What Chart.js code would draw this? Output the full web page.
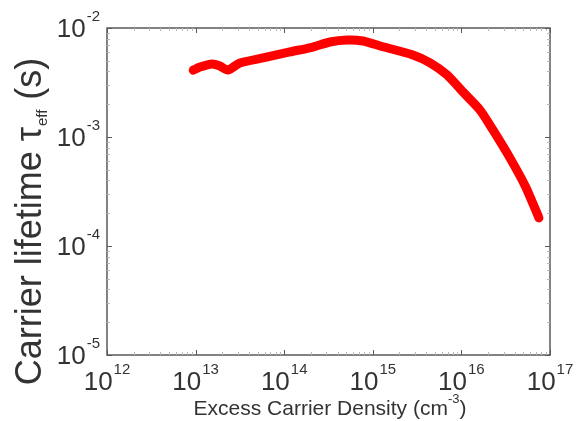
<!DOCTYPE html>
<html lang="en">
<head>
<meta charset="UTF-8">
<title>Carrier lifetime</title>
<script src="https://cdn.jsdelivr.net/npm/chart.js"></script>
<style>
  body { margin: 0; background: #fff; }
  #wrap { width: 578px; height: 421px; }
</style>
</head>
<body>
<div id="wrap"><canvas id="myChart" width="578" height="421"></canvas></div>
<script>
// Excess carrier density (cm^-3) and effective lifetime (s)
const carrierDensity = [
  9.4e12, 1.12e13, 1.53e13, 1.88e13, 2.32e13, 3.17e13, 5.77e13, 1.16e14,
  2.11e14, 3.29e14, 5.12e14, 7.75e14, 1.21e15, 2.84e15, 4.43e15, 6.88e15,
  1.04e16, 1.62e16, 2.27e16, 3.54e16, 5.3e16, 7.5e16
];
const lifetime = [
  4.1e-3, 4.38e-3, 4.68e-3, 4.48e-3, 4.12e-3, 4.78e-3, 5.31e-3, 6.03e-3,
  6.69e-3, 7.44e-3, 7.76e-3, 7.6e-3, 6.84e-3, 5.65e-3, 4.78e-3, 3.71e-3,
  2.59e-3, 1.77e-3, 1.16e-3, 6.4e-4, 3.5e-4, 1.81e-4
];

// decade exponents used for tick labels
const xExponents = [12, 13, 14, 15, 16, 17];
const yExponents = [-5, -4, -3, -2];

const FONT = '"Liberation Sans", Arial, sans-serif';
const AXIS_COLOR = '#5a5a5a';

// draws a "10^n" label; align is 'center' or 'right'
function drawPower(ctx, exp, x, y, align) {
  const base = '10';
  const sup = String(exp);
  ctx.font = '26px ' + FONT;
  const wb = ctx.measureText(base).width;
  ctx.font = '15px ' + FONT;
  const ws = ctx.measureText(sup).width;
  const total = wb + ws + 1;
  let left = align === 'right' ? x - total : x - total / 2;
  ctx.textAlign = 'left';
  ctx.textBaseline = 'alphabetic';
  ctx.font = '26px ' + FONT;
  ctx.fillText(base, left, y);
  ctx.font = '15px ' + FONT;
  ctx.fillText(sup, left + wb + 1, y - 16);
}

const axesPlugin = {
  id: 'matlabAxes',
  afterDraw(chart) {
    const ctx = chart.ctx;
    const area = chart.chartArea;
    const xs = chart.scales.x;
    const ys = chart.scales.y;
    ctx.save();

    // box
    ctx.strokeStyle = AXIS_COLOR;
    ctx.lineWidth = 1.5;
    ctx.strokeRect(area.left, area.top, area.right - area.left, area.bottom - area.top);

    // ticks, pointing inward on all four sides
    ctx.lineWidth = 1;
    for (let e = 12; e <= 17; e++) {
      for (let m = 1; m <= 9; m++) {
        const v = m * Math.pow(10, e);
        if (v > 1e17) break;
        const px = Math.round(xs.getPixelForValue(v)) + 0.5;
        const len = m === 1 ? 5 : 3;
        ctx.strokeStyle = m === 1 ? AXIS_COLOR : '#b8b8b8';
        ctx.beginPath();
        ctx.moveTo(px, area.bottom); ctx.lineTo(px, area.bottom - len);
        ctx.moveTo(px, area.top); ctx.lineTo(px, area.top + len);
        ctx.stroke();
      }
    }
    for (let e = -5; e <= -2; e++) {
      for (let m = 1; m <= 9; m++) {
        const v = m * Math.pow(10, e);
        if (v > 1e-2) break;
        const py = Math.round(ys.getPixelForValue(v)) + 0.5;
        const len = m === 1 ? 5 : 3;
        ctx.strokeStyle = m === 1 ? AXIS_COLOR : '#b8b8b8';
        ctx.beginPath();
        ctx.moveTo(area.left, py); ctx.lineTo(area.left + len, py);
        ctx.moveTo(area.right, py); ctx.lineTo(area.right - len, py);
        ctx.stroke();
      }
    }

    // tick labels
    ctx.fillStyle = '#333';
    xExponents.forEach(e => {
      drawPower(ctx, e, xs.getPixelForValue(Math.pow(10, e)), area.bottom + 35, 'center');
    });
    yExponents.forEach(e => {
      drawPower(ctx, e, area.left - 7, ys.getPixelForValue(Math.pow(10, e)) + 9, 'right');
    });

    // x axis title
    ctx.font = '21px ' + FONT;
    const t1 = 'Excess Carrier Density (cm';
    const w1 = ctx.measureText(t1).width;
    ctx.font = '13px ' + FONT;
    const w2 = ctx.measureText('-3').width;
    ctx.font = '21px ' + FONT;
    const w3 = ctx.measureText(')').width;
    let tx = 330 - (w1 + w2 + w3) / 2;
    const ty = 415;
    ctx.fillText(t1, tx, ty);
    ctx.font = '13px ' + FONT;
    ctx.fillText('-3', tx + w1, ty - 12);
    ctx.font = '21px ' + FONT;
    ctx.fillText(')', tx + w1 + w2, ty);

    // y axis title, rotated
    ctx.save();
    ctx.translate(41, 222);
    ctx.rotate(-Math.PI / 2);
    ctx.font = '36px ' + FONT;
    const a = 'Carrier lifetime \u03c4';
    const wa = ctx.measureText(a).width;
    ctx.font = '15px ' + FONT;
    const wsub = ctx.measureText('eff').width;
    ctx.font = '36px ' + FONT;
    const c = ' (s)';
    const wc = ctx.measureText(c).width;
    let sx = -(wa + wsub + wc) / 2;
    ctx.fillText(a, sx, 0);
    ctx.font = '15px ' + FONT;
    ctx.fillText('eff', sx + wa + 1, 6);
    ctx.font = '36px ' + FONT;
    ctx.fillText(c, sx + wa + wsub + 1, 0);
    ctx.restore();

    ctx.restore();
  }
};

new Chart(document.getElementById('myChart').getContext('2d'), {
  type: 'line',
  data: {
    datasets: [{
      data: carrierDensity.map((x, i) => ({ x: x, y: lifetime[i] })),
      borderColor: '#ff0000',
      backgroundColor: '#ff0000',
      borderWidth: 9,
      borderCapStyle: 'round',
      borderJoinStyle: 'round',
      pointRadius: 0,
      tension: 0.25,
      fill: false
    }]
  },
  options: {
    responsive: false,
    animation: false,
    layout: { padding: { left: 107, top: 28, right: 28, bottom: 66 } },
    plugins: { legend: { display: false }, tooltip: { enabled: false } },
    scales: {
      x: { type: 'logarithmic', min: 1e12, max: 1e17, display: false },
      y: { type: 'logarithmic', min: 1e-5, max: 1e-2, display: false }
    }
  },
  plugins: [axesPlugin]
});
</script>
</body>
</html>
